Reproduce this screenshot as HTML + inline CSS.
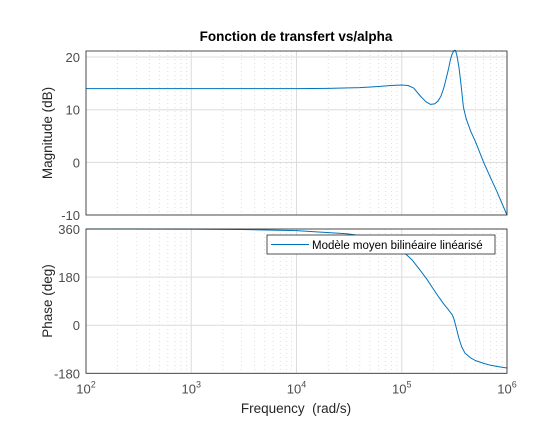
<!DOCTYPE html>
<html><head><meta charset="utf-8"><style>
body{margin:0;background:#fff;width:560px;height:420px;overflow:hidden}
svg text{font-family:"Liberation Sans",sans-serif}
</style></head><body>
<svg id="fig" width="560" height="420" viewBox="0 0 560 420" xmlns="http://www.w3.org/2000/svg">
<rect width="560" height="420" fill="#fff"/>
<text x="296" y="41" text-anchor="middle" font-size="13.5" font-weight="bold" fill="#000">Fonction de transfert vs/alpha</text>
<text transform="translate(52,133) rotate(-90)" text-anchor="middle" font-size="13.5" fill="#262626">Magnitude (dB)</text>
<text transform="translate(52,301) rotate(-90)" text-anchor="middle" font-size="13.5" fill="#262626">Phase (deg)</text>
<text x="296" y="413" text-anchor="middle" font-size="13.5" fill="#262626">Frequency&#160; (rad/s)</text>
<g id="mag"></g>
<g id="ph"></g>
</svg>
<script>
const magFreq=[1e2,1e3,1e4,2e4,4e4,6e4,8e4,1e5,1.15e5,1.3e5,1.5e5,1.7e5,1.88e5,2.05e5,2.2e5,2.35e5,2.5e5,2.65e5,2.8e5,2.9e5,3.0e5,3.1e5,3.18e5,3.25e5,3.35e5,3.5e5,3.65e5,3.85e5,4.1e5,4.5e5,5e5,6e5,7e5,8e5,1e6];
const magDb=[14,14,14,14.05,14.2,14.4,14.6,14.7,14.6,14.1,12.6,11.5,11.0,11.1,11.6,12.5,14,16,18,19.5,20.5,21.1,21.3,21.2,20.2,18,15,10.5,8.3,6,4,0,-3,-5.5,-10];
const phFreq=[1e2,1e3,3e3,1e4,3e4,5e4,1e5,1.25e5,1.5e5,1.75e5,2e5,2.25e5,2.5e5,2.75e5,3e5,3.1e5,3.2e5,3.3e5,3.5e5,3.7e5,4e5,4.5e5,5e5,6e5,7e5,8.5e5,1e6];
const phDeg=[360,359.5,358,354,342,330,280,245,205,170,135,105,80,60,40,28,10,-10,-50,-80,-105,-122,-132,-143,-150,-156,-160];
const xTicks=[2,3,4,5,6];
const magTicks=[20,10,0,-10];
const phTicks=[360,180,0,-180];
const NS="http://www.w3.org/2000/svg";
const X0=86,X1=507;
const xs=f=>X0+(Math.log10(f)-2)/4*(X1-X0);
function el(p,t,a){const e=document.createElementNS(NS,t);for(const k in a)e.setAttribute(k,a[k]);p.appendChild(e);return e;}
function axes(g,top,bot,ymin,ymax,ticks,freq,vals,showX,name){
  const ys=v=>bot-(v-ymin)/(ymax-ymin)*(bot-top);
  el(g,'rect',{x:X0,y:top,width:X1-X0,height:bot-top,fill:'#fff'});
  for(let d=2;d<6;d++)for(let m=2;m<10;m++){const x=xs(m*Math.pow(10,d));
    const l=el(g,'line',{x1:x,x2:x,y1:top,y2:bot,stroke:'#c8c8c8','stroke-width':0.6,'stroke-dasharray':'1,3'});
    }
  xTicks.forEach(t=>{const x=xs(Math.pow(10,t));
    const l=el(g,'line',{x1:x,x2:x,y1:top,y2:bot,stroke:'#dcdcdc','stroke-width':1});
    
    if(showX){const tx=el(g,'text',{x:x,y:bot+20,'text-anchor':'middle','font-size':13,fill:'#4d4d4d'});
      
      tx.textContent='10';const s=el(tx,'tspan',{dy:-6,'font-size':9});s.textContent=t;}
  });
  ticks.forEach(v=>{const y=ys(v);
    const l=el(g,'line',{x1:X0,x2:X1,y1:y,y2:y,stroke:'#dcdcdc','stroke-width':1});
    
    const tx=el(g,'text',{x:X0-6,y:y+5,'text-anchor':'end','font-size':13,fill:'#4d4d4d'});
    
    tx.textContent=v;});
  const pts=freq.map((f,i)=>xs(f).toFixed(1)+','+ys(vals[i]).toFixed(1)).join(' ');
  const pl=el(g,'polyline',{points:pts,fill:'none',stroke:'#0072BD','stroke-width':1,'stroke-linejoin':'round'});
  
  const fr=el(g,'rect',{x:X0,y:top,width:X1-X0,height:bot-top,fill:'none',stroke:'#262626','stroke-width':0.8});
  
  return ys;
}
axes(document.getElementById('mag'),51,215,-10,21.15,magTicks,magFreq,magDb,false,'magnitude-line');
const g=document.getElementById('ph');
axes(g,229,373.3,-180,360,phTicks,phFreq,phDeg,true,'phase-line');
const lg=el(g,'g',{});

el(lg,'rect',{x:267,y:235,width:228,height:19,fill:'#fff',stroke:'#262626','stroke-width':0.8});
el(lg,'line',{x1:271,x2:309,y1:244.5,y2:244.5,stroke:'#0072BD','stroke-width':1});
const lt=el(lg,'text',{x:312,y:249,'font-size':11.5,fill:'#000'});

lt.textContent='Modèle moyen bilinéaire linéarisé';
</script>
</body></html>
